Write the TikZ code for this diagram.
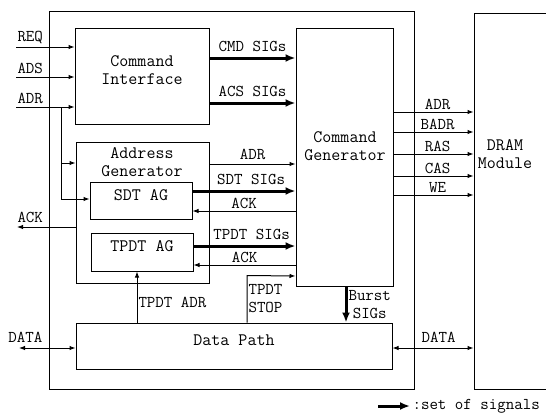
\documentclass[tikz,border=0pt]{standalone}
\usepackage{fontspec}
\usetikzlibrary{arrows.meta,fit,positioning}

\begin{document}
\begin{tikzpicture}[x=1pt,y=-1pt,
    blk/.style={draw, line width=1pt, inner sep=0pt, align=center, font=\ttfamily\fontsize{17.5}{18}\selectfont},
    txt/.style={align=center, font=\ttfamily\fontsize{17.5}{18}\selectfont},
    lbl/.style={inner sep=1pt, font=\ttfamily\fontsize{16.5}{18}\selectfont},
    sig/.style={line width=1pt, -{Latex[length=6pt,width=4.5pt]}},
    both/.style={line width=1pt, {Latex[length=6pt,width=4.5pt]}-{Latex[length=6pt,width=4.5pt]}},
    bus/.style={line width=3pt, -{Latex[length=10pt,width=8pt]}}]
  \useasboundingbox (0,0) rectangle (546,415);
  \clip (0,0) rectangle (546,415);

  % blocks
  \node[blk, fit={(49,11) (414,389)}] (ctrl) {};
  \node[blk, fit={(474,13) (560,389)}] (dram) {};
  \node[txt] (dramtext) at (505,154) {DRAM\\Module};
  \node[blk, fit={(75,28) (209,124)}] (ci) {Command\\Interface};
  \node[blk, fit={(76,142) (209,283)}] (ag) {};
  \node[txt] (agtext) at (142,162) {Address\\Generator};
  \node[blk, fit={(90,182) (192,219)}] (sdt) {SDT AG};
  \node[blk, fit={(91,233) (193,271)}] (tpdt) {TPDT AG};
  \node[blk, fit={(296,28) (393,286)}] (cg) {};
  \node[txt] (cgtext) at (345,146) {Command\\Generator};
  \node[blk, fit={(76,323) (392,369)}] (dp) {Data Path};

  % inputs
  \coordinate (req) at (16,47);
  \coordinate (ads) at (16,77);
  \coordinate (adr) at (16,107);
  \coordinate (br) at (61,107);
  \coordinate (ackout) at (17,227);
  \coordinate (datain) at (19,348);
  \draw[sig] (req) -- (req -| ci.west) node[lbl, pos=0, anchor=south west, yshift=2pt] {REQ};
  \draw[sig] (ads) -- (ads -| ci.west) node[lbl, pos=0, anchor=south west, yshift=2pt] {ADS};
  \draw[sig] (adr) -- (adr -| ci.west) node[lbl, pos=0, anchor=south west, yshift=2pt] {ADR};
  \draw[sig] (br) |- (sdt.west |- 0,199);
  \draw[sig] (br |- 0,163) -- (ag.west |- 0,163);
  \draw[sig] (ag.west |- ackout) -- (ackout) node[lbl, pos=1, anchor=south west, xshift=-1pt, yshift=3pt] {ACK};
  \draw[both] (datain) -- (datain -| dp.west) node[lbl, pos=0, anchor=south west, xshift=-12pt, yshift=4pt] {DATA};

  % signals to the command generator
  \draw[bus] (ci.east |- 0,58) -- (cg.west |- 0,58) node[lbl, midway, above=4pt] {CMD SIGs};
  \draw[bus] (ci.east |- 0,103) -- (cg.west |- 0,103) node[lbl, midway, above=4pt] {ACS SIGs};
  \draw[sig] (ag.east |- 0,164) -- (cg.west |- 0,164) node[lbl, midway, above=3pt] {ADR};
  \draw[bus] (sdt.east |- 0,191) -- (cg.west |- 0,191) node[lbl, pos=0.57, above=4pt] {SDT SIGs};
  \draw[sig] (cg.west |- 0,211) -- (sdt.east |- 0,211) node[lbl, midway, above=1pt] {ACK};
  \draw[bus] (tpdt.east |- 0,246) -- (cg.west |- 0,246) node[lbl, pos=0.57, above=4pt] {TPDT SIGs};
  \draw[sig] (cg.west |- 0,265) -- (tpdt.east |- 0,265) node[lbl, midway, above=1pt] {ACK};

  % data path links
  \draw[sig] (137,0 |- dp.north) -- (137,0 |- tpdt.south) node[lbl, pos=0.4, right] {TPDT ADR};
  \draw[sig] (247,0 |- dp.north) -- ++(0,-47) node[lbl, midway, right, align=left] {TPDT\\STOP} -- (cg.west |- 0,276);
  \draw[bus] (346,0 |- cg.south) -- (346,0 |- dp.north) node[lbl, midway, right, align=center] {Burst\\SIGs};
  \draw[both] (dp.east |- 0,348) -- (dram.west |- 0,348) node[lbl, pos=0.57, above=4pt] {DATA};

  % DRAM control
  \foreach \s/\y in {ADR/112, BADR/132, RAS/154, CAS/176, WE/195}
    \draw[sig] (cg.east |- 0,\y) -- (dram.west |- 0,\y) node[lbl, pos=0.55, above=1pt] {\s};

  % legend
  \coordinate (lgd) at (378,406);
  \draw[bus] (lgd) -- ++(32,0) node[lbl, right] {:set of signals};
\end{tikzpicture}
\end{document}
